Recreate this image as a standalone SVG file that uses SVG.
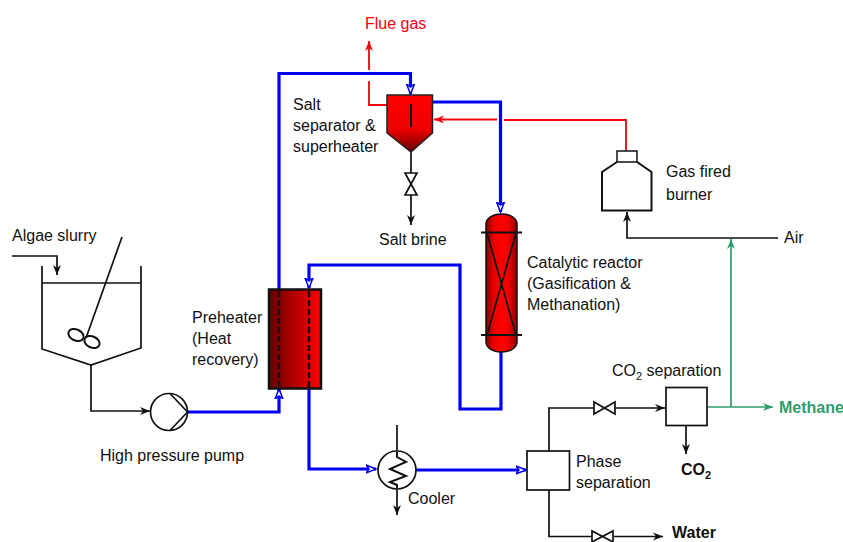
<svg xmlns="http://www.w3.org/2000/svg" width="843" height="542" viewBox="0 0 843 542">
<style>
text{font-family:"Liberation Sans",Arial,sans-serif;font-size:16px;fill:#111}
.b{font-weight:bold}
.k{fill:none;stroke:#111;stroke-width:1.7}
.u{fill:none;stroke:#0000f5;stroke-width:3.2}
.r{fill:none;stroke:#f5000f;stroke-width:1.8}
.g{fill:none;stroke:#2f9e6c;stroke-width:1.7}
.e{stroke:#111;stroke-width:2;fill:none}
</style>
<defs>
<linearGradient id="sep" x1="0" y1="0" x2="0" y2="1"><stop offset="0" stop-color="#f00"/><stop offset="0.6" stop-color="#e00"/><stop offset="1" stop-color="#600"/></linearGradient>
<linearGradient id="rea" x1="0" y1="0" x2="1" y2="0"><stop offset="0" stop-color="#800"/><stop offset="0.25" stop-color="#e80000"/><stop offset="0.5" stop-color="#f00"/><stop offset="0.75" stop-color="#e80000"/><stop offset="1" stop-color="#800"/></linearGradient>
<linearGradient id="pre" x1="0" y1="0" x2="1" y2="0"><stop offset="0" stop-color="#600"/><stop offset="1" stop-color="#f00"/></linearGradient>
<marker id="ak" markerUnits="userSpaceOnUse" markerWidth="12" markerHeight="10" refX="10" refY="5" orient="auto"><path d="M0 1 10 5 0 9 3 5Z" fill="#111"/></marker>
<marker id="ar" markerUnits="userSpaceOnUse" markerWidth="12" markerHeight="10" refX="10" refY="5" orient="auto"><path d="M0 1 10 5 0 9 3 5Z" fill="#f5000f"/></marker>
<marker id="ag" markerUnits="userSpaceOnUse" markerWidth="12" markerHeight="10" refX="10" refY="5" orient="auto"><path d="M0 1 10 5 0 9 3 5Z" fill="#2f9e6c"/></marker>
<marker id="au" markerUnits="userSpaceOnUse" markerWidth="12" markerHeight="10" refX="10" refY="5" orient="auto"><path d="M0 1 10 5 0 9 3 5Z" fill="#fff" stroke="#0000f5" stroke-width="1.5"/></marker>
</defs>
<g id="connectors">
<path class="u" d="M279 289V73.5H410.5V94" marker-end="url(#au)"/>
<path class="u" d="M433 102H500.5V212" marker-end="url(#au)"/>
<path class="u" d="M501 352V409H460V265H309V288" marker-end="url(#au)"/>
<path class="u" d="M188 412H279V389" marker-end="url(#au)"/>
<path class="u" d="M309 389V469H376" marker-end="url(#au)"/>
<path class="u" d="M416 470H526" marker-end="url(#au)"/>
<path class="r" d="M387 105H369V81"/>
<path class="r" d="M369 70V41" marker-end="url(#ar)"/>
<path class="r" d="M626 151V120H504"/>
<path class="r" d="M497 119.500H434" marker-end="url(#ar)"/>
<path class="k" d="M411 152V173M411 195V225" marker-end="url(#ak)"/>
<path class="k" d="M12 256H57V275" marker-end="url(#ak)"/>
<path class="k" d="M91 365V411H150" marker-end="url(#ak)"/>
<path class="k" d="M549 451V408H594M615 408H665" marker-end="url(#ak)"/>
<path class="k" d="M549 490V536.500H592M614 536.500H663" marker-end="url(#ak)"/>
<path class="k" d="M686 426V454" marker-end="url(#ak)"/>
<path class="k" d="M778 238H627V212" marker-end="url(#ak)"/>
<path class="k" d="M397 425V452"/>
<path class="k" d="M397 488V515" marker-end="url(#ak)"/>
<path class="g" d="M707 407H773" marker-end="url(#ag)"/>
<path class="g" d="M731 407V239" marker-end="url(#ag)"/>
</g>
<g id="tank" class="k">
<path d="M42 266V349L91 365L141 348V266"/>
<path d="M42 283H141"/>
<path d="M122 237L86 338"/>
<ellipse cx="76" cy="335" rx="8" ry="5.500" transform="rotate(25 76 335)" style="stroke-width:2"/>
<ellipse cx="92" cy="342" rx="8" ry="5.500" transform="rotate(25 92 342)" style="stroke-width:2"/>
</g>
<g id="pump" class="k">
<circle cx="169" cy="412" r="18.500" fill="#fff"/>
<path d="M170 393.500L187.500 412L170 430.500"/>
</g>
<g id="preheater">
<rect x="269" y="289.500" width="52" height="99" fill="url(#pre)" stroke="#111" stroke-width="2.500"/>
<path d="M279 291V388M309 291V388" stroke="#111" stroke-width="2.500" stroke-dasharray="6 3"/>
</g>
<g id="separator">
<path d="M387 95H432.500V133L411 152L387 133Z" fill="url(#sep)" stroke="#222" stroke-width="1.500"/>
<path d="M411 104V127" stroke="#111" stroke-width="2"/>
</g>
<g id="valve1" class="k"><path d="M405 173H417L405 195H417Z"/></g>
<g id="reactor">
<rect x="486" y="214" width="31" height="138" rx="15" ry="10" fill="url(#rea)" stroke="#111" stroke-width="1.500"/>
<path d="M481 232.500H522M481 335H522" stroke="#111" stroke-width="2"/>
<path d="M487 233L516 335M516 233L487 335" stroke="#111" stroke-width="1.700"/>
</g>
<g id="burner" class="e">
<path d="M617 162L602 172V210.500H651.500V172L637 162"/>
<rect x="617" y="151" width="20" height="11" style="stroke-width:1.500"/>
</g>
<g id="cooler">
<circle cx="397" cy="470" r="19" fill="#fff" stroke="#111" stroke-width="1.700"/>
<path d="M397 452V457L406 462L390 469L406 476L390 482L397 485V488" fill="none" stroke="#111" stroke-width="2"/>
</g>
<g id="phase"><rect x="527" y="451" width="42.500" height="39" fill="#fff" stroke="#111" stroke-width="1.700"/></g>
<g id="co2"><rect x="666" y="387.500" width="41" height="38" fill="#fff" stroke="#111" stroke-width="1.700"/></g>
<g id="valve2" class="k"><path d="M594 402V414L615 402V414Z" fill="#fff"/></g>
<g id="valve3" class="k"><path d="M592 531V542L613 531V542Z" fill="#fff"/></g>
<g id="labels">
<text x="365" y="29" style="fill:#f5000f">Flue gas</text>
<text x="293" y="110">Salt</text>
<text x="293" y="131">separator &amp;</text>
<text x="293" y="152">superheater</text>
<text x="666" y="177">Gas fired</text>
<text x="666" y="200">burner</text>
<text x="379" y="245">Salt brine</text>
<text x="12" y="241">Algae slurry</text>
<text x="784" y="243">Air</text>
<text x="527" y="268">Catalytic reactor</text>
<text x="527" y="289">(Gasification &amp;</text>
<text x="527" y="310">Methanation)</text>
<text x="192" y="323">Preheater</text>
<text x="192" y="344">(Heat</text>
<text x="192" y="365">recovery)</text>
<text x="100" y="461">High pressure pump</text>
<text x="408" y="504">Cooler</text>
<text x="576" y="467">Phase</text>
<text x="576" y="488">separation</text>
<text x="612" y="376">CO<tspan font-size="11" dy="4">2</tspan><tspan dy="-4"> separation</tspan></text>
<text x="681" y="475" class="b">CO<tspan font-size="11" dy="4">2</tspan></text>
<text x="779" y="413" class="b" style="fill:#2f9e6c">Methane</text>
<text x="672" y="538" class="b">Water</text>
</g>
</svg>
